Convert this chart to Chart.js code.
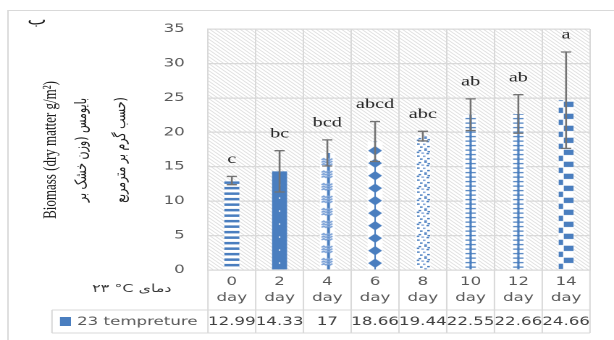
<!DOCTYPE html>
<html>
<head>
<meta charset="utf-8">
<script src="https://cdn.jsdelivr.net/npm/chart.js@4/dist/chart.umd.min.js"></script>
<style>
  html, body { margin: 0; padding: 0; background: #fff; overflow: hidden; }
  /* the chart is laid out on a narrower canvas and widened to 614px */
  #frame { width: 424px; height: 340px; transform: scaleX(1.44811); transform-origin: 0 0; }
</style>
</head>
<body>
<div id="frame"><canvas id="chart" width="424" height="340"></canvas></div>
<script>
// ---- data ----
const days = [0, 2, 4, 6, 8, 10, 12, 14];
const dayUnit = 'day';
const biomass = [12.99, 14.33, 17, 18.66, 19.44, 22.55, 22.66, 24.66];
const stdDev = [0.6, 3.0, 1.9, 2.9, 0.7, 2.3, 2.8, 7.0];
const groupLetters = ['c', 'bc', 'bcd', 'abcd', 'abc', 'ab', 'ab', 'a'];
const yTicks = [0, 5, 10, 15, 20, 25, 30, 35];
const seriesName = '23 tempreture';
const titleEn = 'Biomass (dry matter g/m\u00B2)';
const titleFa1 = 'بایومس (وزن خشک بر';
const titleFa2 = 'حسب گرم بر مترمربع)';
const panelTag = 'ب';
const tempNote = '۲۳ °C دمای';

// ---- look ----
const BLUE = '#4A7EBF';
const LIGHT_BLUE = '#7FA4D8';
const GRID = '#d9d9d9';
const TICK = '#595959';
const SANS = '"DejaVu Sans", sans-serif';
const SERIF = '"Liberation Serif", "Times New Roman", serif';

const canvas = document.getElementById('chart');
const ctx0 = canvas.getContext('2d');

// pattern tiles are drawn at 2x and scaled back when used
const TILE_W = 16;
function makePattern(h, paint) {
  const t = document.createElement('canvas');
  t.width = TILE_W * 2;
  t.height = Math.round(h * 2);
  const c = t.getContext('2d');
  c.scale(2, 2);
  c.fillStyle = '#fff';
  c.fillRect(0, 0, TILE_W, h);
  paint(c, TILE_W / 2, h);
  return ctx0.createPattern(t, 'repeat');
}

const ladder = () => makePattern(4.4, (c, cx, h) => {
  c.fillStyle = BLUE; c.fillRect(cx - 0.8, 0, 1.6, h);
  c.fillRect(cx - 3.6, 1.6, 7.2, 1.2);
});

const designs = [
  // dashed horizontal
  () => makePattern(5.4, (c) => { c.fillStyle = BLUE; c.fillRect(0, 0, TILE_W, 2.5); }),
  // solid with small dots
  () => makePattern(13, (c, cx, h) => {
    c.fillStyle = BLUE; c.fillRect(0, 0, TILE_W, h);
    c.fillStyle = '#fff'; c.fillRect(cx - 0.5, 6, 1, 1.3);
  }),
  // stripe with zigzag knots
  () => makePattern(12.5, (c, cx, h) => {
    c.fillStyle = BLUE; c.fillRect(cx - 0.2, 0, 2, h);
    c.strokeStyle = LIGHT_BLUE; c.lineWidth = 1.4;
    for (const yy of [3, 5.5, 8]) {
      c.beginPath();
      c.moveTo(cx - 4, yy);
      c.lineTo(cx - 2.5, yy - 1.3); c.lineTo(cx - 1, yy);
      c.lineTo(cx + 0.5, yy - 1.3); c.lineTo(cx + 2, yy);
      c.lineTo(cx + 3.5, yy - 1.3);
      c.stroke();
    }
  }),
  // diamonds on a thin line
  () => makePattern(12.5, (c, cx, h) => {
    c.fillStyle = BLUE; c.fillRect(cx - 0.5, 0, 1, h);
    c.beginPath();
    c.moveTo(cx, 1.6); c.lineTo(cx + 4.8, 6.3); c.lineTo(cx, 11); c.lineTo(cx - 4.8, 6.3);
    c.closePath(); c.fill();
  }),
  // confetti
  () => makePattern(12, (c, cx) => {
    const bits = [[-3, 0.5], [1, 0], [-1, 3], [2.5, 3.5], [-4, 6], [0, 6.2], [3, 8.5], [-2, 9], [1, 10.6], [-4.2, 2.2], [3.2, 1.6]];
    bits.forEach(([dx, yy], k) => {
      c.fillStyle = k % 3 === 2 ? LIGHT_BLUE : BLUE;
      c.fillRect(cx + dx, yy, 1.8, 1.4);
    });
  }),
  // ladders
  ladder,
  ladder,
  // staggered blocks
  () => makePattern(12, (c, cx) => {
    c.fillStyle = BLUE;
    c.fillRect(cx - 1.6, 0.3, 7, 5.3);
    c.fillRect(cx - 5.3, 6.3, 3.2, 5.3);
  }),
];
const barPatterns = designs.map(d => d());

// diagonal hatch behind the plot
const hatch = (() => {
  const s = 3.6;
  const t = document.createElement('canvas');
  t.width = Math.round(s * 2); t.height = Math.round(s * 2);
  const c = t.getContext('2d');
  c.fillStyle = '#fff'; c.fillRect(0, 0, t.width, t.height);
  c.strokeStyle = '#dcdcdc'; c.lineWidth = 1.3;
  for (const off of [-t.width, 0, t.width]) {
    c.beginPath(); c.moveTo(off - 1, -1); c.lineTo(off + t.width + 1, t.height + 1); c.stroke();
  }
  const p = ctx0.createPattern(t, 'repeat');
  p.setTransform(new DOMMatrix([0.5, 0, 0, 0.5, 0, 0]));
  return p;
})();

const PLOT_LEFT = 143.6;
const PLOT_RIGHT = 407.4;
const LEGEND_LEFT = 35.9;
const ROW_MID = 310;
const TABLE_BOTTOM = 333;

const decor = {
  id: 'decor',
  beforeDraw(chart) {
    const { ctx, chartArea: a } = chart;
    ctx.save();
    ctx.fillStyle = '#fff';
    ctx.fillRect(0, 0, chart.width, chart.height);
    ctx.fillStyle = hatch;
    ctx.fillRect(a.left, a.top, a.right - a.left, a.bottom - a.top);
    ctx.restore();
  },
  beforeDatasetsDraw(chart) {
    const meta = chart.getDatasetMeta(0);
    meta.data.forEach((el, i) => {
      barPatterns[i].setTransform(new DOMMatrix([0.5, 0, 0, 0.5, el.x - TILE_W / 2, el.base]));
    });
  },
  afterDatasetsDraw(chart) {
    const { ctx } = chart;
    const y = chart.scales.y;
    const meta = chart.getDatasetMeta(0);
    ctx.save();
    ctx.strokeStyle = '#737373';
    ctx.lineWidth = 1.3;
    meta.data.forEach((el, i) => {
      const hi = y.getPixelForValue(biomass[i] + stdDev[i]);
      const lo = y.getPixelForValue(biomass[i] - stdDev[i]);
      ctx.beginPath();
      ctx.moveTo(el.x, hi); ctx.lineTo(el.x, lo);
      ctx.moveTo(el.x - 3.5, hi); ctx.lineTo(el.x + 3.5, hi);
      ctx.moveTo(el.x - 3.5, lo); ctx.lineTo(el.x + 3.5, lo);
      ctx.stroke();
    });
    ctx.fillStyle = '#262626';
    ctx.font = '14px ' + SERIF;
    ctx.textAlign = 'center';
    ctx.textBaseline = 'middle';
    meta.data.forEach((el, i) => {
      const hi = y.getPixelForValue(biomass[i] + stdDev[i]);
      ctx.fillText(groupLetters[i], el.x, hi - 17);
    });
    ctx.restore();
  },
  afterDraw(chart) {
    const { ctx } = chart;
    const x = chart.scales.x;
    const n = days.length;
    const cw = (x.right - x.left) / n;
    ctx.save();

    // frame of the chart
    ctx.strokeStyle = GRID;
    ctx.lineWidth = 1;
    ctx.beginPath();
    ctx.moveTo(5.5, 340); ctx.lineTo(5.5, 10.5); ctx.lineTo(chart.width, 10.5);
    ctx.stroke();

    // data table grid
    ctx.beginPath();
    for (let i = 0; i <= n; i++) {
      const bx = x.left + i * cw;
      ctx.moveTo(bx, x.top); ctx.lineTo(bx, TABLE_BOTTOM);
    }
    ctx.moveTo(LEGEND_LEFT, ROW_MID); ctx.lineTo(x.right, ROW_MID);
    ctx.moveTo(LEGEND_LEFT, TABLE_BOTTOM); ctx.lineTo(x.right, TABLE_BOTTOM);
    ctx.moveTo(LEGEND_LEFT, ROW_MID); ctx.lineTo(LEGEND_LEFT, TABLE_BOTTOM);
    ctx.stroke();

    // legend key and series values
    const rowY = (ROW_MID + TABLE_BOTTOM) / 2;
    ctx.fillStyle = BLUE;
    ctx.fillRect(41.4, rowY - 4.5, 7.6, 9);
    ctx.font = '11.5px ' + SANS;
    ctx.textBaseline = 'middle';
    ctx.fillStyle = TICK;
    ctx.textAlign = 'left';
    ctx.fillText(seriesName, 53.2, rowY + 0.5);
    ctx.fillStyle = '#404040';
    ctx.textAlign = 'center';
    biomass.forEach((v, i) => {
      ctx.fillText(String(v), x.getPixelForValue(i), rowY + 0.5);
    });

    // axis titles
    ctx.fillStyle = '#1a1a1a';
    const drawVertical = (text, cx, font) => {
      ctx.save();
      ctx.translate(cx, 150);
      ctx.rotate(-Math.PI / 2);
      ctx.font = font;
      ctx.textAlign = 'center';
      ctx.textBaseline = 'middle';
      ctx.fillText(text, 0, 0);
      ctx.restore();
    };
    drawVertical(titleEn, 35.2, '13px ' + SERIF);
    drawVertical(titleFa1, 56.6, '11px ' + SANS);
    drawVertical(titleFa2, 83.6, '11px ' + SANS);

    ctx.font = '14px ' + SANS;
    ctx.textAlign = 'center';
    ctx.textBaseline = 'middle';
    ctx.fillText(panelTag, 25.5, 21);

    ctx.font = '11px ' + SANS;
    ctx.fillStyle = '#333';
    ctx.fillText(tempNote, 91, 289);
    ctx.restore();
  }
};

new Chart(canvas, {
  type: 'bar',
  data: {
    labels: days.map(d => [String(d), dayUnit]),
    datasets: [{
      label: seriesName,
      data: biomass,
      backgroundColor: barPatterns,
      borderWidth: 0,
      barPercentage: 0.315,
      categoryPercentage: 1
    }]
  },
  options: {
    responsive: false,
    animation: false,
    devicePixelRatio: 2,
    events: [],
    layout: { padding: { left: 0, top: 29, right: 424 - PLOT_RIGHT, bottom: 0 } },
    plugins: { legend: { display: false }, tooltip: { enabled: false } },
    scales: {
      x: {
        afterFit(scale) { scale.height = 70; },
        grid: { color: GRID, lineWidth: 1, drawTicks: false, offset: true },
        border: { display: true, color: GRID, width: 1 },
        ticks: {
          color: TICK, padding: 4, maxRotation: 0, autoSkip: false,
          font: { family: SANS, size: 11.5, lineHeight: 16 / 11.5 }
        }
      },
      y: {
        min: yTicks[0],
        max: yTicks[yTicks.length - 1],
        afterFit(scale) { scale.width = PLOT_LEFT; },
        afterBuildTicks(scale) { scale.ticks = yTicks.map(v => ({ value: v })); },
        grid: { color: GRID, lineWidth: 1.2, drawTicks: false },
        border: { display: true, color: GRID, width: 1 },
        ticks: { color: TICK, padding: 16, font: { family: SANS, size: 11.5 } }
      }
    }
  },
  plugins: [decor]
});
</script>
</body>
</html>
